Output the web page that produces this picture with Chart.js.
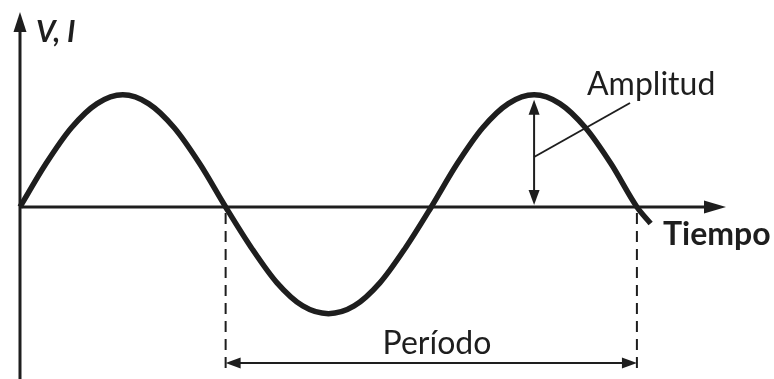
<!DOCTYPE html>
<html>
<head>
<meta charset="utf-8">
<script src="https://cdn.jsdelivr.net/npm/chart.js@4.4.1/dist/chart.umd.min.js"></script>
<style>
  html, body { margin: 0; padding: 0; background: #fff; }
  #wrap { width: 774px; height: 379px; }
</style>
</head>
<body>
<div id="wrap"><canvas id="chart" width="774" height="379"></canvas></div>
<script>
// phase in degrees, signal (amplitude = 1)
const angles = [0, 22.5, 45, 67.5, 90, 112.5, 135, 157.5, 180,
                202.5, 225, 247.5, 270, 292.5, 315, 337.5, 360,
                382.5, 405, 427.5, 450, 472.5, 495, 517.5, 540, 552];
const values = [0, 0.39, 0.72, 0.94, 1.02, 0.94, 0.72, 0.39, 0,
                -0.37, -0.69, -0.90, -0.97, -0.90, -0.69, -0.37, 0,
                0.39, 0.72, 0.94, 1.02, 0.94, 0.72, 0.39, 0, -0.15];

const periodMarks = [180, 540];
const amplitudeAt = 450;
const amplitudeValue = 1.02;

const yLabel = 'V, I';
const xLabel = 'Tiempo';
const amplitudeLabel = 'Amplitud';
const periodLabel = 'Período';

const ink = '#1e1e1e';
const font = 'Lato, "Open Sans", sans-serif';

function arrowHead(ctx, tipX, tipY, dx, dy, len, half) {
    // dx, dy: unit direction the arrow points to
    const bx = tipX - dx * len, by = tipY - dy * len;
    ctx.beginPath();
    ctx.moveTo(tipX, tipY);
    ctx.lineTo(bx - dy * half, by + dx * half);
    ctx.lineTo(bx + dy * half, by - dx * half);
    ctx.closePath();
    ctx.fill();
}

const diagram = {
    id: 'diagram',
    beforeDatasetsDraw(chart) {
        const ctx = chart.ctx;
        const x = chart.scales.x, y = chart.scales.y;
        const x0 = x.getPixelForValue(0);
        const y0 = y.getPixelForValue(0);
        ctx.save();
        ctx.strokeStyle = ink;
        ctx.fillStyle = ink;
        ctx.lineWidth = 3;

        // vertical axis
        ctx.beginPath();
        ctx.moveTo(x0, chart.height);
        ctx.lineTo(x0, 26);
        ctx.stroke();
        arrowHead(ctx, x0, 12, 0, -1, 20, 6.5);

        // horizontal axis
        ctx.beginPath();
        ctx.moveTo(x0, y0);
        ctx.lineTo(712, y0);
        ctx.stroke();
        arrowHead(ctx, 726, y0, 1, 0, 22, 6.5);

        ctx.textBaseline = 'alphabetic';
        ctx.font = 'italic bold 30px ' + font;
        ctx.fillText(yLabel, 36, 42);
        ctx.font = 'bold 32px ' + font;
        ctx.fillText(xLabel, 663, 245);
        ctx.restore();
    },
    afterDatasetsDraw(chart) {
        const ctx = chart.ctx;
        const x = chart.scales.x, y = chart.scales.y;
        const y0 = y.getPixelForValue(0);
        const pa = x.getPixelForValue(periodMarks[0]);
        const pb = x.getPixelForValue(periodMarks[1]);
        ctx.save();
        ctx.strokeStyle = ink;
        ctx.fillStyle = ink;

        // dashed guides
        ctx.lineWidth = 2;
        ctx.setLineDash([11, 7]);
        [pa, pb].forEach(px => {
            ctx.beginPath();
            ctx.moveTo(px, y0 + 6);
            ctx.lineTo(px, 372);
            ctx.stroke();
        });
        ctx.setLineDash([]);

        // period arrow
        const py = 363;
        ctx.beginPath();
        ctx.moveTo(pa + 10, py);
        ctx.lineTo(pb - 10, py);
        ctx.stroke();
        arrowHead(ctx, pa, py, -1, 0, 15, 5.5);
        arrowHead(ctx, pb, py, 1, 0, 15, 5.5);

        // amplitude arrow
        const ax = x.getPixelForValue(amplitudeAt);
        const top = y.getPixelForValue(amplitudeValue) + 5;
        ctx.beginPath();
        ctx.moveTo(ax, top + 10);
        ctx.lineTo(ax, y0 - 12);
        ctx.stroke();
        arrowHead(ctx, ax, top, 0, -1, 15, 5.5);
        arrowHead(ctx, ax, y0 - 2, 0, 1, 15, 5.5);

        // leader line to the label
        ctx.beginPath();
        ctx.moveTo(ax, 157);
        ctx.lineTo(630, 103);
        ctx.stroke();

        ctx.textBaseline = 'alphabetic';
        ctx.font = '32px ' + font;
        ctx.fillText(amplitudeLabel, 587, 95);
        ctx.textAlign = 'center';
        ctx.fillText(periodLabel, 437, 354);
        ctx.restore();
    }
};

new Chart(document.getElementById('chart'), {
    type: 'line',
    data: {
        datasets: [{
            data: angles.map((a, i) => ({ x: a, y: values[i] })),
            borderColor: ink,
            borderWidth: 5.5,
            pointRadius: 0,
            cubicInterpolationMode: 'monotone',
            fill: false
        }]
    },
    options: {
        responsive: false,
        animation: false,
        layout: { padding: 0 },
        plugins: { legend: { display: false }, tooltip: { enabled: false } },
        scales: {
            x: { type: 'linear', min: -17.5, max: 660, display: false },
            y: { min: -1.564, max: 1.882, display: false }
        }
    },
    plugins: [diagram]
});
</script>
</body>
</html>
